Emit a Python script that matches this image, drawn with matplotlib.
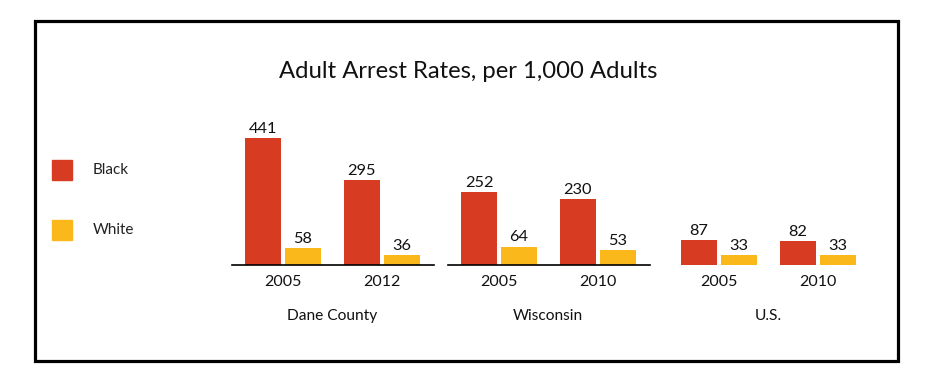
import matplotlib.pyplot as plt
from matplotlib.patches import Rectangle

# dados
grupos = ['Dane County', 'Wisconsin', 'U.S.']
anos = [['2005', '2012'], ['2005', '2010'], ['2005', '2010']]
negros = [[441, 295], [252, 230], [87, 82]]
brancos = [[58, 36], [64, 53], [33, 33]]
series = ['Black', 'White']
cores = ['#D73B21', '#FAB81B']

plt.rcParams['font.family'] = ['Lato', 'DejaVu Sans']

W, H = 934, 386
fig = plt.figure(figsize=(W / 100, H / 100), dpi=100)

# moldura preta
fig.add_artist(Rectangle((35 / W, 1 - 361 / H), 863 / W, 340 / H,
                         transform=fig.transFigure, fill=False,
                         edgecolor='black', linewidth=2.3))

fig.text(468 / W, 1 - 71 / H, 'Adult Arrest Rates, per 1,000 Adults',
         ha='center', va='center', fontsize=17.2, color='#111111')

# eixo das barras, em "pixels" no x
x0, x1 = 220, 900
ax = fig.add_axes([x0 / W, 1 - 265 / H, (x1 - x0) / W, 165 / H])
ax.set_xlim(x0, x1)
ax.set_ylim(0, 165 / 0.288)
ax.axis('off')

larg = 36
passo_par = 40
passo_ano = 98.5
inicio_grupo = [263, 479, 699]

for g, nome in enumerate(grupos):
    base = inicio_grupo[g]
    xs_n = [base + i * passo_ano for i in range(len(anos[g]))]
    xs_b = [x + passo_par for x in xs_n]
    bn = ax.bar(xs_n, negros[g], width=larg, color=cores[0])
    bb = ax.bar(xs_b, brancos[g], width=larg, color=cores[1])
    for barras, vals in ((bn, negros[g]), (bb, brancos[g])):
        for r, v in zip(barras, vals):
            ax.annotate(str(v), (r.get_x() + r.get_width() / 2, v),
                        xytext=(0, 1.5), textcoords='offset points',
                        ha='center', va='bottom', fontsize=11.8, color='#111111')
    for x, a in zip(xs_n, anos[g]):
        ax.annotate(a, (x + passo_par / 2, 0), xytext=(0, -7.5),
                    textcoords='offset points', ha='center', va='top',
                    fontsize=11.5, color='#111111', annotation_clip=False)
    meio = (xs_n[0] + xs_b[-1]) / 2
    ax.annotate(nome, (meio, 0), xytext=(0, -31.5), textcoords='offset points',
                ha='center', va='top', fontsize=11.2, color='#111111',
                annotation_clip=False)
    # linha de base (so nos dois primeiros grupos)
    if g < 2:
        ax.plot([xs_n[0] - 31, xs_b[-1] + 32], [0, 0], color='black',
                linewidth=1.2, clip_on=False)

# legenda manual
for i, (s, c) in enumerate(zip(series, cores)):
    y = 170 + i * 60
    fig.add_artist(Rectangle((52 / W, 1 - (y + 10) / H), 20 / W, 20 / H,
                             transform=fig.transFigure, color=c))
    fig.text(93 / W, 1 - y / H, s, ha='left', va='center',
             fontsize=11, color='#222222')

fig.savefig('out.png', dpi=100, facecolor='white')
